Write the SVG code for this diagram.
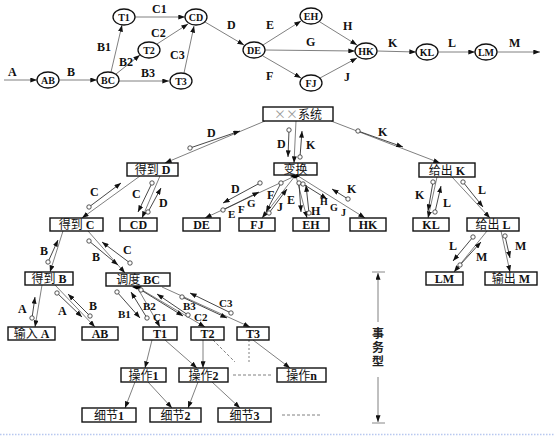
<svg xmlns="http://www.w3.org/2000/svg" width="554" height="437" viewBox="0 0 554 437">
<style>
.e{stroke:#808080;stroke-width:1;fill:none;marker-end:url(#ah)}
.ln{stroke:#808080;stroke-width:1;fill:none}
.cp{stroke:#333;stroke-width:0.9;fill:none;marker-start:url(#oc);marker-end:url(#ah)}
.bx rect{fill:#fff;stroke:#111;stroke-width:1.4}
.nd ellipse{fill:#fff;stroke:#111;stroke-width:1.3}
.t{font-family:"Liberation Serif",serif;font-weight:bold;font-size:12px;fill:#111}
.s{font-family:"Liberation Serif",serif;font-weight:bold;font-size:11px;fill:#111}
.xs{font-family:"Liberation Serif",serif;font-weight:bold;font-size:10px;fill:#111}
.nt{font-family:"Liberation Serif",serif;font-weight:bold;font-size:10px;fill:#111;text-anchor:middle}
.bt{font-family:"Liberation Serif","Noto Sans CJK SC",serif;font-weight:bold;font-size:12px;fill:#111;text-anchor:middle}
.cj{font-family:"Noto Sans CJK SC",sans-serif;font-weight:normal}
.vt{font-family:"Noto Sans CJK SC",sans-serif;font-weight:bold;font-size:12px;fill:#222}
</style>
<defs>
<marker id="ah" viewBox="0 0 8 6" refX="8" refY="3" markerWidth="7" markerHeight="5" orient="auto" markerUnits="userSpaceOnUse"><path d="M0,0L8,3L0,6z" fill="#111"/></marker>
<marker id="oc" viewBox="0 0 6 6" refX="3" refY="3" markerWidth="5.5" markerHeight="5.5" markerUnits="userSpaceOnUse"><circle cx="3" cy="3" r="2.4" fill="#fff" stroke="#333" stroke-width="0.9"/></marker>
</defs>
<rect width="554" height="437" fill="#fff"/>

<!-- top graph connectors -->
<g id="top-connectors">
<line class="e" x1="4" y1="80" x2="37" y2="80"/>
<line class="e" x1="59" y1="80" x2="97" y2="80"/>
<line class="e" x1="111" y1="72" x2="122" y2="25"/>
<line class="e" x1="116" y1="74" x2="140" y2="55"/>
<line class="e" x1="119" y1="81" x2="169" y2="81"/>
<line class="e" x1="135" y1="17" x2="185" y2="17"/>
<line class="e" x1="157" y1="44" x2="188" y2="24"/>
<line class="e" x1="184" y1="73" x2="194" y2="26"/>
<line class="e" x1="205" y1="22" x2="244" y2="45"/>
<line class="e" x1="263" y1="45" x2="301" y2="21"/>
<line class="e" x1="265" y1="50" x2="355" y2="51"/>
<line class="e" x1="263" y1="56" x2="301" y2="78"/>
<line class="e" x1="320" y1="22" x2="357" y2="45"/>
<line class="e" x1="320" y1="78" x2="357" y2="58"/>
<line class="e" x1="377" y1="51" x2="416" y2="52"/>
<line class="e" x1="438" y1="52" x2="475" y2="52"/>
<line class="e" x1="497" y1="52" x2="540" y2="52"/>
<text class="t" x="8" y="76">A</text>
<text class="t" x="67" y="76">B</text>
<text class="t" x="97" y="51">B1</text>
<text class="t" x="119" y="66">B2</text>
<text class="t" x="141" y="77">B3</text>
<text class="t" x="152" y="13">C1</text>
<text class="t" x="151" y="37">C2</text>
<text class="t" x="170" y="59">C3</text>
<text class="t" x="227" y="29">D</text>
<text class="t" x="266" y="29">E</text>
<text class="t" x="306" y="46">G</text>
<text class="t" x="266" y="80">F</text>
<text class="t" x="343" y="30">H</text>
<text class="t" x="344" y="81">J</text>
<text class="t" x="388" y="47">K</text>
<text class="t" x="448" y="47">L</text>
<text class="t" x="509" y="47">M</text>
</g>

<!-- top graph nodes -->
<g id="n-AB" class="nd"><ellipse cx="48" cy="80" rx="11" ry="8"/><text class="nt" x="48" y="83.5">AB</text></g>
<g id="n-BC" class="nd"><ellipse cx="108" cy="80" rx="11" ry="8"/><text class="nt" x="108" y="83.5">BC</text></g>
<g id="n-T1" class="nd"><ellipse cx="124" cy="17" rx="11" ry="8"/><text class="nt" x="124" y="20.5">T1</text></g>
<g id="n-T2" class="nd"><ellipse cx="149" cy="50" rx="11" ry="8"/><text class="nt" x="149" y="53.5">T2</text></g>
<g id="n-T3" class="nd"><ellipse cx="181" cy="81" rx="11" ry="8"/><text class="nt" x="181" y="84.5">T3</text></g>
<g id="n-CD" class="nd"><ellipse cx="196" cy="17" rx="11" ry="8"/><text class="nt" x="196" y="20.5">CD</text></g>
<g id="n-DE" class="nd"><ellipse cx="254" cy="50" rx="11" ry="8"/><text class="nt" x="254" y="53.5">DE</text></g>
<g id="n-EH" class="nd"><ellipse cx="311" cy="16" rx="11" ry="8"/><text class="nt" x="311" y="19.5">EH</text></g>
<g id="n-FJ" class="nd"><ellipse cx="311" cy="83" rx="11" ry="8"/><text class="nt" x="311" y="86.5">FJ</text></g>
<g id="n-HK" class="nd"><ellipse cx="366" cy="51" rx="11" ry="8"/><text class="nt" x="366" y="54.5">HK</text></g>
<g id="n-KL" class="nd"><ellipse cx="427" cy="52" rx="11" ry="8"/><text class="nt" x="427" y="55.5">KL</text></g>
<g id="n-LM" class="nd"><ellipse cx="486" cy="52" rx="11" ry="8"/><text class="nt" x="486" y="55.5">LM</text></g>

<!-- tree connectors -->
<g id="tree-connectors">
<line class="e" x1="265" y1="121" x2="165" y2="163"/>
<line class="e" x1="296" y1="121" x2="294" y2="163"/>
<line class="e" x1="331" y1="121" x2="440" y2="163"/>
<line class="e" x1="140" y1="176" x2="82" y2="218"/>
<line class="e" x1="160" y1="176" x2="142" y2="218"/>
<line class="e" x1="63" y1="231" x2="50" y2="272"/>
<line class="e" x1="88" y1="231" x2="125" y2="273"/>
<line class="e" x1="42" y1="285" x2="35" y2="327"/>
<line class="e" x1="55" y1="285" x2="95" y2="327"/>
<line class="e" x1="137" y1="287" x2="160" y2="327"/>
<line class="e" x1="137" y1="287" x2="205" y2="327"/>
<line class="e" x1="162" y1="287" x2="250" y2="327"/>
<line class="e" x1="295" y1="176" x2="205" y2="218"/>
<line class="e" x1="295" y1="176" x2="262" y2="218"/>
<line class="e" x1="296" y1="176" x2="307" y2="218"/>
<line class="e" x1="298" y1="176" x2="365" y2="218"/>
<line class="e" x1="437" y1="177" x2="428" y2="218"/>
<line class="e" x1="452" y1="177" x2="490" y2="218"/>
<line class="e" x1="487" y1="231" x2="454" y2="272"/>
<line class="e" x1="501" y1="231" x2="510" y2="272"/>
<line class="e" x1="152" y1="340" x2="145" y2="368"/>
<line class="e" x1="165" y1="340" x2="197" y2="368"/>
<line class="e" x1="203" y1="340" x2="203" y2="368"/>
<line class="e" x1="253" y1="340" x2="290" y2="368"/>
<line class="e" x1="135" y1="382" x2="125" y2="408"/>
<line class="e" x1="148" y1="382" x2="172" y2="408"/>
<line class="e" x1="198" y1="382" x2="188" y2="408"/>
<line class="e" x1="212" y1="382" x2="240" y2="408"/>
<line class="ln" x1="213" y1="340" x2="235" y2="362" stroke-dasharray="3,2"/>
<line class="ln" x1="249" y1="340" x2="249" y2="362" stroke-dasharray="2,2"/>
<line class="ln" x1="233" y1="375" x2="272" y2="375" stroke-dasharray="3,2"/>
<line class="ln" x1="282" y1="415" x2="320" y2="415" stroke-dasharray="3,2"/>
<path d="M132,287L137,284.5L142,287L137,289.5z" fill="#000"/>
<path d="M290,176L295,173.5L300,176L295,178.5z" fill="#000"/>
<!-- data couples -->
<line class="cp" x1="190" y1="148" x2="240" y2="131"/>
<line class="cp" x1="289" y1="130" x2="288" y2="157"/>
<line class="cp" x1="300" y1="157" x2="302" y2="131"/>
<line class="cp" x1="358" y1="131" x2="403" y2="147"/>
<line class="cp" x1="89" y1="207" x2="121" y2="183"/>
<line class="cp" x1="152" y1="183" x2="138" y2="212"/>
<line class="cp" x1="148" y1="212" x2="161" y2="188"/>
<line class="cp" x1="48" y1="262" x2="58" y2="240"/>
<line class="cp" x1="89" y1="241" x2="118" y2="265"/>
<line class="cp" x1="130" y1="263" x2="102" y2="242"/>
<line class="cp" x1="32" y1="318" x2="35" y2="297"/>
<line class="cp" x1="57" y1="293" x2="82" y2="317"/>
<line class="cp" x1="90" y1="316" x2="68" y2="294"/>
<line class="cp" x1="117" y1="292" x2="140" y2="318"/>
<line class="cp" x1="147" y1="318" x2="131" y2="292"/>
<line class="cp" x1="141" y1="290" x2="183" y2="316"/>
<line class="cp" x1="188" y1="315" x2="157" y2="294"/>
<line class="cp" x1="182" y1="297" x2="227" y2="318"/>
<line class="cp" x1="231" y1="313" x2="190" y2="293"/>
<line class="cp" x1="260" y1="183" x2="223" y2="203"/>
<line class="cp" x1="223" y1="210" x2="259" y2="192"/>
<line class="cp" x1="281" y1="183" x2="266" y2="212"/>
<line class="cp" x1="269" y1="213" x2="287" y2="189"/>
<line class="cp" x1="299" y1="183" x2="301" y2="212"/>
<line class="cp" x1="309" y1="213" x2="306" y2="185"/>
<line class="cp" x1="303" y1="184" x2="327" y2="199"/>
<line class="cp" x1="348" y1="199" x2="332" y2="189"/>
<line class="cp" x1="433" y1="182" x2="428" y2="211"/>
<line class="cp" x1="435" y1="212" x2="441" y2="186"/>
<line class="cp" x1="463" y1="182" x2="483" y2="207"/>
<line class="cp" x1="473" y1="237" x2="453" y2="261"/>
<line class="cp" x1="460" y1="265" x2="481" y2="242"/>
<line class="cp" x1="505" y1="236" x2="510" y2="258"/>
<!-- couple labels -->
<text class="t" x="207" y="137">D</text>
<text class="t" x="277" y="148">D</text>
<text class="t" x="306" y="149">K</text>
<text class="t" x="378" y="136">K</text>
<text class="t" x="90" y="196">C</text>
<text class="t" x="132" y="198">C</text>
<text class="t" x="159" y="207">D</text>
<text class="t" x="40" y="255">B</text>
<text class="t" x="92" y="261">B</text>
<text class="t" x="123" y="254">C</text>
<text class="t" x="18" y="313">A</text>
<text class="t" x="58" y="315">A</text>
<text class="t" x="89" y="310">B</text>
<text class="s" x="118" y="318">B1</text>
<text class="s" x="143" y="310">B2</text>
<text class="s" x="153" y="321">C1</text>
<text class="s" x="183" y="310">B3</text>
<text class="s" x="194" y="321">C2</text>
<text class="s" x="219" y="307">C3</text>
<text class="t" x="231" y="193">D</text>
<text class="s" x="228" y="218">E</text>
<text class="s" x="238" y="213">F</text>
<text class="s" x="247" y="207">G</text>
<text class="t" x="267" y="199">F</text>
<text class="t" x="277" y="211">J</text>
<text class="t" x="287" y="204">E</text>
<text class="t" x="311" y="215">H</text>
<text class="xs" x="320" y="205">H</text>
<text class="xs" x="330" y="211">G</text>
<text class="xs" x="341" y="216">J</text>
<text class="t" x="347" y="193">K</text>
<text class="t" x="415" y="199">K</text>
<text class="t" x="443" y="207">L</text>
<text class="t" x="478" y="194">L</text>
<text class="t" x="449" y="250">L</text>
<text class="t" x="476" y="261">M</text>
<text class="t" x="515" y="250">M</text>
</g>

<!-- tree nodes -->
<g id="b-sys" class="bx"><rect x="263" y="107" width="70" height="14"/><text class="bt" x="298" y="118.5"><tspan class="cj" fill="#999">××</tspan><tspan class="cj">系统</tspan></text></g>
<g id="b-bianhuan" class="bx"><rect x="274" y="163" width="43" height="12"/><text class="bt" x="295.5" y="173.5"><tspan class="cj">变换</tspan></text></g>
<g id="b-dedaoD" class="bx"><rect x="127" y="163" width="51" height="13"/><text class="bt" x="152.5" y="174"><tspan class="cj">得到</tspan> D</text></g>
<g id="b-geichuK" class="bx"><rect x="419" y="163" width="56" height="14"/><text class="bt" x="447" y="174.5"><tspan class="cj">给出</tspan> K</text></g>
<g id="b-dedaoC" class="bx"><rect x="50" y="218" width="53" height="13"/><text class="bt" x="76.5" y="229"><tspan class="cj">得到</tspan> C</text></g>
<g id="b-CD" class="bx"><rect x="120" y="218" width="37" height="13"/><text class="bt" x="138.5" y="229">CD</text></g>
<g id="b-DE" class="bx"><rect x="183" y="218" width="37" height="13"/><text class="bt" x="201.5" y="229">DE</text></g>
<g id="b-FJ" class="bx"><rect x="239" y="218" width="36" height="13"/><text class="bt" x="257" y="229">FJ</text></g>
<g id="b-EH" class="bx"><rect x="293" y="218" width="36" height="13"/><text class="bt" x="311" y="229">EH</text></g>
<g id="b-HK" class="bx"><rect x="350" y="218" width="36" height="13"/><text class="bt" x="368" y="229">HK</text></g>
<g id="b-KL" class="bx"><rect x="413" y="218" width="36" height="13"/><text class="bt" x="431" y="229">KL</text></g>
<g id="b-geichuL" class="bx"><rect x="467" y="218" width="52" height="13"/><text class="bt" x="493" y="229"><tspan class="cj">给出</tspan> L</text></g>
<g id="b-dedaoB" class="bx"><rect x="25" y="272" width="48" height="13"/><text class="bt" x="49" y="283"><tspan class="cj">得到</tspan> B</text></g>
<g id="b-diaoduBC" class="bx"><rect x="106" y="273" width="64" height="13"/><text class="bt" x="138" y="284"><tspan class="cj">调度</tspan> BC</text></g>
<g id="b-LM" class="bx"><rect x="426" y="272" width="37" height="13"/><text class="bt" x="444.5" y="283">LM</text></g>
<g id="b-shuchuM" class="bx"><rect x="485" y="272" width="52" height="13"/><text class="bt" x="511" y="283"><tspan class="cj">输出</tspan> M</text></g>
<g id="b-shuruA" class="bx"><rect x="8" y="327" width="47" height="13"/><text class="bt" x="31.5" y="338"><tspan class="cj">输入</tspan> A</text></g>
<g id="b-AB" class="bx"><rect x="82" y="327" width="36" height="13"/><text class="bt" x="100" y="338">AB</text></g>
<g id="b-T1" class="bx"><rect x="143" y="327" width="34" height="13"/><text class="bt" x="160" y="338">T1</text></g>
<g id="b-T2" class="bx"><rect x="191" y="327" width="33" height="13"/><text class="bt" x="207.5" y="338">T2</text></g>
<g id="b-T3" class="bx"><rect x="237" y="327" width="32" height="13"/><text class="bt" x="253" y="338">T3</text></g>
<g id="b-op1" class="bx"><rect x="121" y="368" width="45" height="14"/><text class="bt" x="143.5" y="379.5"><tspan class="cj">操作</tspan>1</text></g>
<g id="b-op2" class="bx"><rect x="179" y="368" width="49" height="14"/><text class="bt" x="203.5" y="379.5"><tspan class="cj">操作</tspan>2</text></g>
<g id="b-opn" class="bx"><rect x="277" y="368" width="49" height="14"/><text class="bt" x="301.5" y="379.5"><tspan class="cj">操作</tspan>n</text></g>
<g id="b-d1" class="bx"><rect x="82" y="408" width="54" height="14"/><text class="bt" x="109" y="419.5"><tspan class="cj">细节</tspan>1</text></g>
<g id="b-d2" class="bx"><rect x="150" y="408" width="51" height="14"/><text class="bt" x="175.5" y="419.5"><tspan class="cj">细节</tspan>2</text></g>
<g id="b-d3" class="bx"><rect x="218" y="408" width="53" height="14"/><text class="bt" x="244.5" y="419.5"><tspan class="cj">细节</tspan>3</text></g>

<!-- transaction-type range marker -->
<g id="shiwuxing">
<line x1="372" y1="272" x2="385" y2="272" stroke="#888" stroke-width="1"/>
<line class="e" x1="378" y1="322" x2="378" y2="273"/>
<line class="e" x1="378" y1="377" x2="378" y2="422"/>
<line x1="372" y1="423" x2="385" y2="423" stroke="#888" stroke-width="1"/>
<text class="vt" x="378" y="327" writing-mode="tb" letter-spacing="2">事务型</text>
</g>
<line x1="0" y1="434.5" x2="554" y2="434.5" stroke="#b8c8f0" stroke-width="1.5" stroke-dasharray="1.5,1.5"/>
</svg>
